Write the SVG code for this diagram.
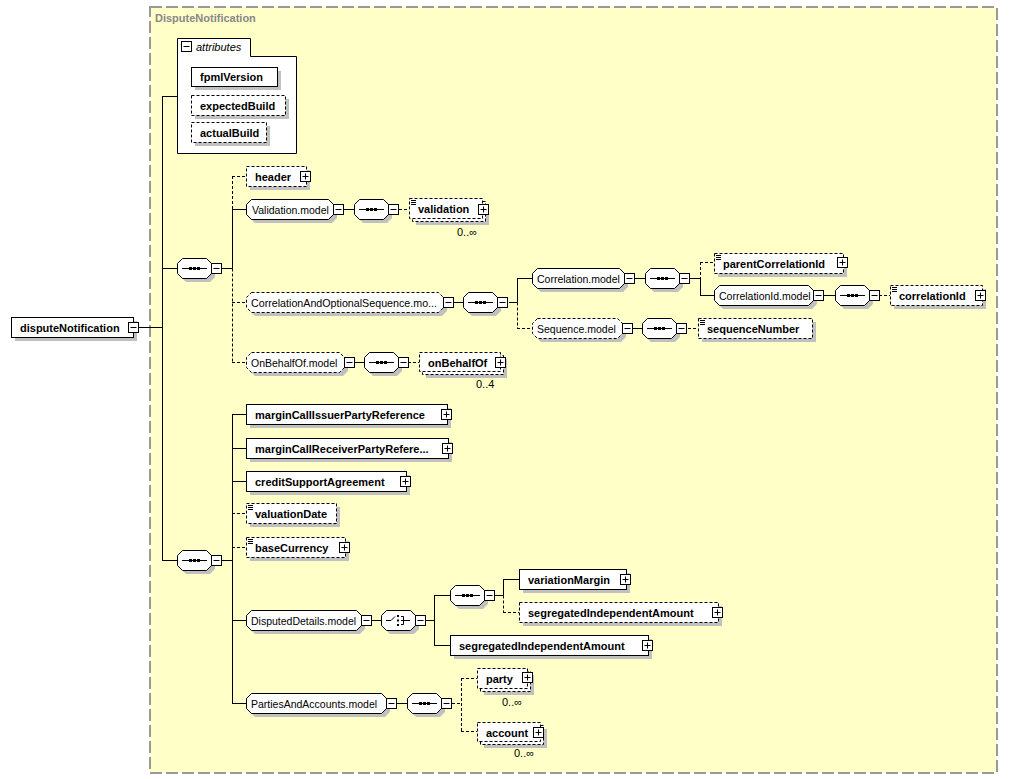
<svg xmlns="http://www.w3.org/2000/svg" xmlns:xlink="http://www.w3.org/1999/xlink" width="1009" height="779" viewBox="0 0 1009 779">
<style>
.sh{fill:#C0C0C0;stroke:none}
.bx{fill:#fff;stroke:#000;stroke-width:1}
.bd{fill:#fff;stroke:#000;stroke-width:1;stroke-dasharray:3,2}
.t{font-family:"Liberation Sans",Arial,sans-serif;font-size:11px;font-weight:bold;fill:#000}
.m{font-family:"Liberation Sans",Arial,sans-serif;font-size:10.5px;fill:#000}
.o{font-family:"Liberation Sans",Arial,sans-serif;font-size:11px;fill:#000}
.c{fill:none;stroke:#000;stroke-width:1}
.cd{fill:none;stroke:#000;stroke-width:1;stroke-dasharray:3,2}
</style>
<defs>
<g id="minus"><rect x="0.5" y="0.5" width="10" height="10" fill="#fff" stroke="#000"/><path d="M2.5,5.5H8.5" stroke="#000"/></g>
<g id="plus"><rect x="0.5" y="0.5" width="10" height="10" fill="#fff" stroke="#000"/><path d="M2.5,5.5H8.5M5.5,2.5V8.5" stroke="#000"/></g>
<g id="doc"><path d="M2,2.5H7M2,4.5H7M2,6.5H7" stroke="#000" stroke-width="1"/></g>
<g id="seq"><path class="sh" d="M9,4H33L38,9V19L33,24H9L4,19V9Z"/><path class="bx" d="M5.5,0.5H29.5L34.5,5.5V15.5L29.5,20.5H5.5L0.5,15.5V5.5Z"/><path d="M5,10.5H30" stroke="#000"/><rect x="12" y="9" width="3" height="3"/><rect x="16" y="9" width="3" height="3"/><rect x="20" y="9" width="3" height="3"/><use xlink:href="#minus" x="34" y="5"/></g>
</defs>
<rect x="0" y="0" width="1009" height="779" fill="#fff"/>
<g id="n-DisputeNotification">
<rect x="150" y="7" width="847" height="766" fill="#FFFFC8" stroke="#999" stroke-width="2" stroke-dasharray="12,4"/>
<text x="155" y="22" class="t" fill="#888" style="fill:#888">DisputeNotification</text>
</g>
<g id="connectors">
<path class="c" d="M139,327.5H162.5M162.5,96V560.5M162,96.5H177M162,268.5H177M162,560.5H177M222,268.5H232.5M232.5,209V268.5M232,209.5H246M344,209.5H354M454,302.5H463M509,302.5H517.5M517.5,278V302.5M517,278.5H532M635,278.5H645M689,278.5H700.5M700.5,278V295.5M700,295.5H714M824,295.5H835M633,328.5H642M355,362.5H364M222,560.5H232.5M232.5,414V703.5M232,414.5H246M232,448.5H246M232,481.5H246M232,620.5H246M232,703.5H246M372,620.5H381M426,620.5H434.5M434.5,595V645.5M434,595.5H450M434,645.5H450M495,595.5H503.5M503.5,579V595.5M503,579.5H519M397,703.5H407"/>
<path class="cd" d="M232.5,176V209M232,176.5H246M232.5,268.5V362.5M232,302.5H246M232,362.5H246M399,209.5H409M517.5,302.5V328.5M517,328.5H532M700.5,262V278M700,262.5H714M879,295.5H890M688,328.5H698M408,362.5H419M232,513.5H246M232,547.5H246M503.5,595.5V612.5M503,612.5H519M452,703.5H461.5M461.5,678V731.5M461,678.5H477M461,731.5H477"/>
</g>
<g id="n-disputeNotification" transform="translate(11,317)">
<rect class="sh" x="4" y="4" width="122" height="20"/><rect class="bx" x="0.5" y="0.5" width="122" height="20"/>
<text x="9" y="14.5" class="t">disputeNotification</text><use xlink:href="#minus" x="117" y="5"/>
</g>
<g id="n-attributes">
<path d="M177.5,38.5H250.5V56.5H296.5V153.5H177.5Z" fill="#fff" stroke="#000"/>
<use xlink:href="#minus" x="181" y="41"/>
<text x="196" y="51" class="o" font-style="italic">attributes</text>
</g>
<g id="n-fpmlVersion" transform="translate(191,67)"><rect class="sh" x="4" y="4" width="86" height="19"/><rect class="bx" x="0.5" y="0.5" width="86" height="19"/><text x="9" y="14" class="t">fpmlVersion</text></g>
<g id="n-expectedBuild" transform="translate(191,95)"><rect class="sh" x="4" y="4" width="94" height="20"/><rect class="bd" x="0.5" y="0.5" width="94" height="20"/><text x="9" y="14.5" class="t">expectedBuild</text></g>
<g id="n-actualBuild" transform="translate(191,122)"><rect class="sh" x="4" y="4" width="75" height="20"/><rect class="bd" x="0.5" y="0.5" width="75" height="20"/><text x="9" y="14.5" class="t">actualBuild</text></g>
<g id="n-seq1"><use xlink:href="#seq" x="177" y="258"/></g>
<g id="n-header" transform="translate(246,166)"><rect class="sh" x="4" y="4" width="60" height="20"/><rect class="bd" x="0.5" y="0.5" width="60" height="20"/><text x="9" y="14.5" class="t">header</text><use xlink:href="#plus" x="54" y="5"/></g>
<g id="n-Validation.model" transform="translate(246,199)"><path class="sh" d="M9,4H86L91,9V19L86,24H9L4,19V9Z"/><path class="bx" d="M5.5,0.5H82.5L87.5,5.5V15.5L82.5,20.5H5.5L0.5,15.5V5.5Z"/><text x="6" y="14.5" class="m">Validation.model</text><use xlink:href="#minus" x="87" y="5"/></g>
<g id="n-seq-validation"><use xlink:href="#seq" x="354" y="199"/></g>
<g id="n-validation" transform="translate(409,198)"><rect class="sh" x="7" y="7" width="73" height="20"/><rect class="bd" x="3.5" y="3.5" width="73" height="20"/><rect class="bd" x="0.5" y="0.5" width="73" height="20"/><use xlink:href="#doc"/><text x="9" y="14.5" class="t">validation</text><use xlink:href="#plus" x="69" y="6"/><text x="48" y="38" class="o">0..∞</text></g>
<g id="n-CorrelationAndOptionalSequence.model" transform="translate(246,292)"><path class="sh" d="M9,4H196L201,9V19L196,24H9L4,19V9Z"/><path class="bd" d="M5.5,0.5H192.5L197.5,5.5V15.5L192.5,20.5H5.5L0.5,15.5V5.5Z"/><text x="5" y="14.5" class="m" textLength="186" lengthAdjust="spacingAndGlyphs">CorrelationAndOptionalSequence.mo...</text><use xlink:href="#minus" x="197" y="5"/></g>
<g id="n-seq-cos"><use xlink:href="#seq" x="463" y="292"/></g>
<g id="n-Correlation.model" transform="translate(532,268)"><path class="sh" d="M9,4H91L96,9V19L91,24H9L4,19V9Z"/><path class="bx" d="M5.5,0.5H87.5L92.5,5.5V15.5L87.5,20.5H5.5L0.5,15.5V5.5Z"/><text x="5" y="14.5" class="m">Correlation.model</text><use xlink:href="#minus" x="92" y="5"/></g>
<g id="n-seq-corr"><use xlink:href="#seq" x="645" y="268"/></g>
<g id="n-parentCorrelationId" transform="translate(714,253)"><rect class="sh" x="4" y="4" width="129" height="20"/><rect class="bd" x="0.5" y="0.5" width="129" height="20"/><use xlink:href="#doc"/><text x="9" y="14.5" class="t">parentCorrelationId</text><use xlink:href="#plus" x="123" y="4"/></g>
<g id="n-CorrelationId.model" transform="translate(714,285)"><path class="sh" d="M9,4H98L103,9V19L98,24H9L4,19V9Z"/><path class="bx" d="M5.5,0.5H94.5L99.5,5.5V15.5L94.5,20.5H5.5L0.5,15.5V5.5Z"/><text x="5" y="14.5" class="m">CorrelationId.model</text><use xlink:href="#minus" x="99" y="5"/></g>
<g id="n-seq-corrid"><use xlink:href="#seq" x="835" y="285"/></g>
<g id="n-correlationId" transform="translate(890,285)"><rect class="sh" x="4" y="4" width="92" height="20"/><rect class="bd" x="0.5" y="0.5" width="92" height="20"/><use xlink:href="#doc"/><text x="9" y="14.5" class="t">correlationId</text><use xlink:href="#plus" x="85" y="5"/></g>
<g id="n-Sequence.model" transform="translate(532,318)"><path class="sh" d="M9,4H89L94,9V19L89,24H9L4,19V9Z"/><path class="bd" d="M5.5,0.5H85.5L90.5,5.5V15.5L85.5,20.5H5.5L0.5,15.5V5.5Z"/><text x="5" y="14.5" class="m">Sequence.model</text><use xlink:href="#minus" x="90" y="5"/></g>
<g id="n-seq-seqmodel"><use xlink:href="#seq" x="642" y="318"/></g>
<g id="n-sequenceNumber" transform="translate(698,318)"><rect class="sh" x="4" y="4" width="114" height="20"/><rect class="bd" x="0.5" y="0.5" width="114" height="20"/><use xlink:href="#doc"/><text x="9" y="14.5" class="t">sequenceNumber</text></g>
<g id="n-OnBehalfOf.model" transform="translate(246,352)"><path class="sh" d="M9,4H97L102,9V19L97,24H9L4,19V9Z"/><path class="bd" d="M5.5,0.5H93.5L98.5,5.5V15.5L93.5,20.5H5.5L0.5,15.5V5.5Z"/><text x="5" y="14.5" class="m">OnBehalfOf.model</text><use xlink:href="#minus" x="98" y="5"/></g>
<g id="n-seq-obo"><use xlink:href="#seq" x="364" y="352"/></g>
<g id="n-onBehalfOf" transform="translate(419,352)"><rect class="sh" x="7" y="7" width="81" height="19"/><rect class="bd" x="3.5" y="3.5" width="81" height="19"/><rect class="bd" x="0.5" y="0.5" width="81" height="19"/><text x="9" y="14.5" class="t">onBehalfOf</text><use xlink:href="#plus" x="76" y="5"/><text x="57" y="36" class="o">0..4</text></g>
<g id="n-seq2"><use xlink:href="#seq" x="177" y="550"/></g>
<g id="n-marginCallIssuerPartyReference" transform="translate(246,404)"><rect class="sh" x="4" y="4" width="201" height="20"/><rect class="bx" x="0.5" y="0.5" width="201" height="20"/><text x="9" y="14.5" class="t">marginCallIssuerPartyReference</text><use xlink:href="#plus" x="195" y="5"/></g>
<g id="n-marginCallReceiverPartyReference" transform="translate(246,438)"><rect class="sh" x="4" y="4" width="202" height="20"/><rect class="bx" x="0.5" y="0.5" width="202" height="20"/><text x="9" y="14.5" class="t">marginCallReceiverPartyRefere...</text><use xlink:href="#plus" x="196" y="5"/></g>
<g id="n-creditSupportAgreement" transform="translate(246,471)"><rect class="sh" x="4" y="4" width="160" height="20"/><rect class="bx" x="0.5" y="0.5" width="160" height="20"/><text x="9" y="14.5" class="t">creditSupportAgreement</text><use xlink:href="#plus" x="154" y="5"/></g>
<g id="n-valuationDate" transform="translate(246,503)"><rect class="sh" x="4" y="4" width="90" height="20"/><rect class="bd" x="0.5" y="0.5" width="90" height="20"/><use xlink:href="#doc"/><text x="9" y="14.5" class="t">valuationDate</text></g>
<g id="n-baseCurrency" transform="translate(246,537)"><rect class="sh" x="4" y="4" width="99" height="20"/><rect class="bd" x="0.5" y="0.5" width="99" height="20"/><use xlink:href="#doc"/><text x="9" y="14.5" class="t">baseCurrency</text><use xlink:href="#plus" x="93" y="5"/></g>
<g id="n-DisputedDetails.model" transform="translate(246,610)"><path class="sh" d="M9,4H114L119,9V19L114,24H9L4,19V9Z"/><path class="bx" d="M5.5,0.5H110.5L115.5,5.5V15.5L110.5,20.5H5.5L0.5,15.5V5.5Z"/><text x="5" y="14.5" class="m">DisputedDetails.model</text><use xlink:href="#minus" x="115" y="5"/></g>
<g id="n-choice" transform="translate(381,610)"><path class="sh" d="M9,4H33L38,9V19L33,24H9L4,19V9Z"/><path class="bx" d="M5.5,0.5H29.5L34.5,5.5V15.5L29.5,20.5H5.5L0.5,15.5V5.5Z"/><path d="M5,10.5H10L14,6.5M20,6.5H22.5V14.5H20M20,10.5H29" stroke="#000" fill="none"/><rect x="16" y="5" width="2" height="2"/><rect x="16" y="9.5" width="2" height="2"/><rect x="16" y="14" width="2" height="2"/><use xlink:href="#minus" x="34" y="5"/></g>
<g id="n-seq-dd"><use xlink:href="#seq" x="450" y="585"/></g>
<g id="n-variationMargin" transform="translate(519,569)"><rect class="sh" x="4" y="4" width="107" height="20"/><rect class="bx" x="0.5" y="0.5" width="107" height="20"/><text x="9" y="14.5" class="t">variationMargin</text><use xlink:href="#plus" x="101" y="5"/></g>
<g id="n-segregatedIndependentAmount-opt" transform="translate(519,602)"><rect class="sh" x="4" y="4" width="199" height="20"/><rect class="bd" x="0.5" y="0.5" width="199" height="20"/><text x="9" y="14.5" class="t">segregatedIndependentAmount</text><use xlink:href="#plus" x="193" y="5"/></g>
<g id="n-segregatedIndependentAmount" transform="translate(450,635)"><rect class="sh" x="4" y="4" width="198" height="20"/><rect class="bx" x="0.5" y="0.5" width="198" height="20"/><text x="9" y="14.5" class="t">segregatedIndependentAmount</text><use xlink:href="#plus" x="192" y="5"/></g>
<g id="n-PartiesAndAccounts.model" transform="translate(246,693)"><path class="sh" d="M9,4H139L144,9V19L139,24H9L4,19V9Z"/><path class="bx" d="M5.5,0.5H135.5L140.5,5.5V15.5L135.5,20.5H5.5L0.5,15.5V5.5Z"/><text x="5" y="14.5" class="m">PartiesAndAccounts.model</text><use xlink:href="#minus" x="140" y="5"/></g>
<g id="n-seq-pa"><use xlink:href="#seq" x="407" y="693"/></g>
<g id="n-party" transform="translate(477,668)"><rect class="sh" x="7" y="7" width="50" height="20"/><rect class="bd" x="3.5" y="3.5" width="50" height="20"/><rect class="bd" x="0.5" y="0.5" width="50" height="20"/><text x="9" y="14.5" class="t">party</text><use xlink:href="#plus" x="45" y="4"/><text x="25" y="38" class="o">0..∞</text></g>
<g id="n-account" transform="translate(477,722)"><rect class="sh" x="7" y="7" width="63" height="19"/><rect class="bd" x="3.5" y="3.5" width="63" height="19"/><rect class="bd" x="0.5" y="0.5" width="63" height="19"/><text x="9" y="14.5" class="t">account</text><use xlink:href="#plus" x="56" y="5"/><text x="37" y="35" class="o">0..∞</text></g>
</svg>
